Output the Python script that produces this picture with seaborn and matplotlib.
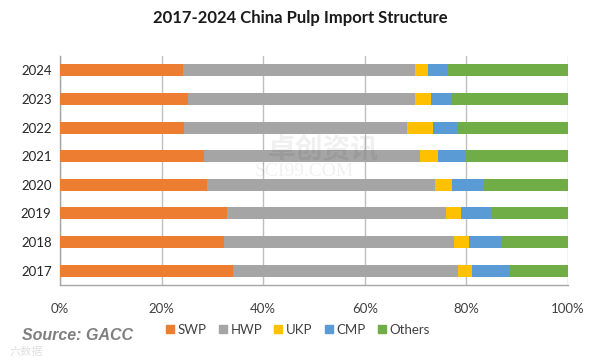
import matplotlib
matplotlib.use("Agg")
import matplotlib.pyplot as plt
import seaborn as sns
import pandas as pd
import numpy as np
from matplotlib.lines import Line2D

years = ["2024", "2023", "2022", "2021", "2020", "2019", "2018", "2017"]
swp = [24.3, 25.1, 24.5, 28.3, 29.0, 32.8, 32.2, 34.1]
hwp = [45.5, 44.7, 43.9, 42.5, 44.8, 43.2, 45.4, 44.3]
ukp = [2.6, 3.3, 5.1, 3.6, 3.3, 3.0, 3.0, 2.7]
cmp_ = [3.7, 3.8, 4.8, 5.4, 6.1, 5.8, 6.2, 7.5]
others = [23.9, 23.1, 21.7, 20.2, 16.8, 15.2, 13.2, 11.4]
x_ticks = [0, 20, 40, 60, 80, 100]
x_tick_labels = ["0%", "20%", "40%", "60%", "80%", "100%"]

series = ["SWP", "HWP", "UKP", "CMP", "Others"]
colors = ["#ED7D31", "#A5A5A5", "#FFC000", "#5B9BD5", "#70AD47"]

df = pd.DataFrame({"Year": years, "SWP": swp, "HWP": hwp, "UKP": ukp,
                   "CMP": cmp_, "Others": others})
cum = df[series].cumsum(axis=1)
cum["Year"] = df["Year"]

sns.set_style("white")
plt.rcParams["font.family"] = ["Lato", "Noto Sans CJK SC", "DejaVu Sans"]

fig = plt.figure(figsize=(6.01, 3.62), dpi=100)
ax = fig.add_axes([60 / 601, 1 - 285 / 362, 508 / 601, 229 / 362])

# draw cumulative bars from the outermost segment inward
for s, c in reversed(list(zip(series, colors))):
    sns.barplot(data=cum, x=s, y="Year", order=years, orient="h", color=c,
                width=0.42, ax=ax, zorder=3, saturation=1, linewidth=0)

ax.set_xlim(0, 100)
ax.set_xticks(x_ticks)
ax.set_xticklabels(x_tick_labels, fontsize=9.5, color="#404040")
ax.set_xlabel("")
ax.set_ylabel("")
ax.grid(axis="x", color="#BFBFBF", linewidth=1, zorder=0)
ax.set_axisbelow(True)
for sp in ["top", "right"]:
    ax.spines[sp].set_visible(False)
for sp in ["left", "bottom"]:
    ax.spines[sp].set_color("#A6A6A6")
    ax.spines[sp].set_linewidth(1)
ax.tick_params(axis="x", length=5, color="#A6A6A6", width=1, pad=8)
ax.tick_params(axis="y", length=0, labelsize=9.5, labelcolor="#262626", pad=6)
ax.set_yticks(np.arange(-0.5, len(years), 1), minor=True)
ax.tick_params(axis="y", which="minor", length=5, color="#A6A6A6", width=1)
ax.set_ylim(len(years) - 0.5, -0.5)

fig.text(0.5, 1 - 18 / 362, "2017-2024 China Pulp Import Structure",
         ha="center", va="center", fontsize=12, fontweight="bold",
         color="#1a1a1a")

handles = [Line2D([0], [0], marker="s", linestyle="", markersize=6,
                  markerfacecolor=c, markeredgecolor=c) for c in colors]
fig.legend(handles, series, loc="center", bbox_to_anchor=(296 / 601, 1 - 330 / 362),
           ncol=5, frameon=False, fontsize=9.5, handletextpad=0.0,
           handlelength=1.2, columnspacing=0.6, labelcolor="#404040")

fig.text(22 / 601, 1 - 336 / 362, "Source: GACC", ha="left", va="center",
         fontsize=11.5, fontweight="bold", fontstyle="italic", color="#7F7F7F",
         family=["Liberation Sans", "DejaVu Sans"])

# faint watermark
fig.text(268 / 601, 1 - 150 / 362, "卓创资讯", ha="left", va="center",
         fontsize=20, color="#000000", alpha=0.06, fontweight="bold",
         family=["Noto Sans CJK SC", "DejaVu Sans"])
fig.text(255 / 601, 1 - 172 / 362, "SCI99.COM", ha="left", va="center",
         fontsize=14, color="#000000", alpha=0.06,
         family=["Liberation Serif", "DejaVu Serif"])
fig.text(10 / 601, 1 - 352 / 362, "六数据", ha="left", va="center",
         fontsize=8, color="#000000", alpha=0.12,
         family=["Noto Sans CJK SC", "DejaVu Sans"])

fig.savefig("out.png", dpi=100)
